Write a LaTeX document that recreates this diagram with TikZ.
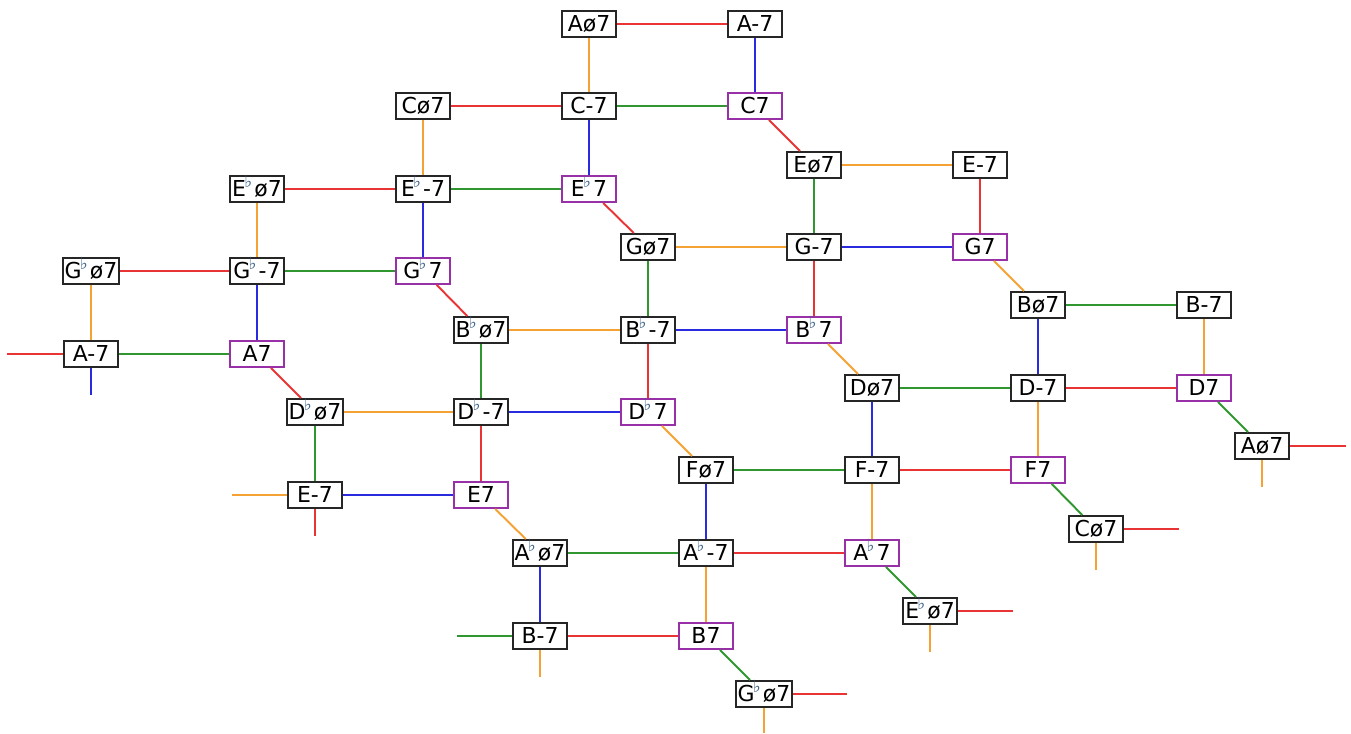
\documentclass[tikz,border=0pt]{standalone}
\usepackage{fontspec}
\setmainfont{DejaVu Sans}
\definecolor{cred}{RGB}{232,52,52}
\definecolor{corange}{RGB}{245,162,52}
\definecolor{cgreen}{RGB}{48,150,48}
\definecolor{cblue}{RGB}{42,42,222}
\definecolor{cpurple}{RGB}{152,48,168}
\definecolor{cflat}{RGB}{60,100,140}
\newcommand\fl{\kern-1pt\raisebox{0.75ex}{\fontsize{9.5}{9.5}\selectfont\textcolor{cflat}{♭}}\kern1.2pt}

\begin{document}
\begin{tikzpicture}[x=0.02cm,y=-0.02cm,
  chord/.style={draw=black!85,line width=1.1pt,fill=white,minimum width=1.08cm,minimum height=0.52cm,
    inner sep=1pt,text height=9pt,text depth=0.5pt,font=\fontsize{12.5}{14}\selectfont},
  dom/.style={chord,draw=cpurple},
  lred/.style={draw=cred,line width=1.1pt},
  lorange/.style={draw=corange,line width=1.1pt},
  lgreen/.style={draw=cgreen,line width=1.1pt},
  lblue/.style={draw=cblue,line width=1.1pt}]
  \useasboundingbox (0,0) rectangle (1351,733);
  % half-diminished and minor chords
  \foreach \n/\x/\y/\t in {Ahd/589/24/{Aø7}, Am/755/24/{A-7}, Chd/423/106/{Cø7}, Cm/589/106/{C-7},
      Ehd/814/165/{Eø7}, Em/980/165/{E-7}, Ebhd/257/189/{E\fl ø7}, Ebm/423/189/{E\fl -7},
      Ghd/648/247/{Gø7}, Gm/814/247/{G-7}, Gbhd/91/271/{G\fl ø7}, Gbm/257/271/{G\fl -7},
      Bhd/1038/305/{Bø7}, Bm/1204/305/{B-7}, Bbhd/481/330/{B\fl ø7}, Bbm/648/330/{B\fl -7},
      Amb/91/354/{A-7}, Dhd/872/388/{Dø7}, Dm/1038/388/{D-7}, Dbhd/315/412/{D\fl ø7},
      Dbm/481/412/{D\fl -7}, Ahdb/1262/446/{Aø7}, Fhd/706/470/{Fø7}, Fm/872/470/{F-7},
      Emb/315/495/{E-7}, Chdb/1096/529/{Cø7}, Abhd/540/553/{A\fl ø7}, Abm/706/553/{A\fl -7},
      Ebhdb/930/611/{E\fl ø7}, Bmb/540/636/{B-7}, Gbhdb/764/694/{G\fl ø7}}
    \node[chord] (\n) at (\x,\y) {\t};
  % dominant chords
  \foreach \n/\x/\y/\t in {Cdom/755/106/{C7}, Ebdom/589/189/{E\fl 7}, Gdom/980/247/{G7},
      Gbdom/423/271/{G\fl 7}, Bbdom/814/330/{B\fl 7}, Adom/257/354/{A7}, Ddom/1204/388/{D7},
      Dbdom/648/412/{D\fl 7}, Fdom/1038/470/{F7}, Edom/481/495/{E7}, Abdom/872/553/{A\fl 7},
      Bdom/706/636/{B7}}
    \node[dom] (\n) at (\x,\y) {\t};
  % loose ends
  \coordinate (s1) at (7,354);     \coordinate (s2) at (91,395);
  \coordinate (s3) at (1346,446);  \coordinate (s4) at (1262,487);
  \coordinate (s5) at (1179,529);  \coordinate (s6) at (1096,570);
  \coordinate (s7) at (232,495);   \coordinate (s8) at (315,536);
  \coordinate (s9) at (1013,611);  \coordinate (s10) at (930,652);
  \coordinate (s11) at (457,636);  \coordinate (s12) at (540,677);
  \coordinate (s13) at (847,694);  \coordinate (s14) at (764,733);
  \foreach \a/\b in {Ahd/Am, Chd/Cm, Cdom/Ehd, Em/Gdom, Ebhd/Ebm, Ebdom/Ghd, Gm/Bbdom, Gbhd/Gbm, Gbdom/Bbhd,
      Bbm/Dbdom, Amb/s1, Adom/Dbhd, Dm/Ddom, Dbm/Edom, Fm/Fdom, Ahdb/s3, Chdb/s5, Emb/s8, Abm/Abdom,
      Ebhdb/s9, Bmb/Bdom, Gbhdb/s13}
    \draw[lred] (\a) -- (\b);
  \foreach \a/\b in {Ahd/Cm, Chd/Ebm, Ehd/Em, Ebhd/Gbm, Ghd/Gm, Gdom/Bhd, Gbhd/Amb, Bm/Ddom, Bbhd/Bbm,
      Bbdom/Dhd, Dm/Fdom, Dbhd/Dbm, Dbdom/Fhd, Fm/Abdom, Ahdb/s4, Chdb/s6, Emb/s7, Edom/Abhd, Abm/Bdom,
      Ebhdb/s10, Bmb/s12, Gbhdb/s14}
    \draw[lorange] (\a) -- (\b);
  \foreach \a/\b in {Cm/Cdom, Ehd/Gm, Ebm/Ebdom, Ghd/Bbm, Gbm/Gbdom, Bhd/Bm, Bbhd/Dbm, Amb/Adom, Dhd/Dm,
      Ddom/Ahdb, Dbhd/Emb, Fhd/Fm, Fdom/Chdb, Abhd/Abm, Abdom/Ebhdb, Bmb/s11, Bdom/Gbhdb}
    \draw[lgreen] (\a) -- (\b);
  \foreach \a/\b in {Am/Cdom, Cm/Ebdom, Gm/Gdom, Ebm/Gbdom, Gbm/Adom, Bhd/Dm, Bbm/Bbdom, Amb/s2, Dhd/Fm,
      Dbm/Dbdom, Fhd/Abm, Emb/Edom, Abhd/Bmb}
    \draw[lblue] (\a) -- (\b);
\end{tikzpicture}
\end{document}
